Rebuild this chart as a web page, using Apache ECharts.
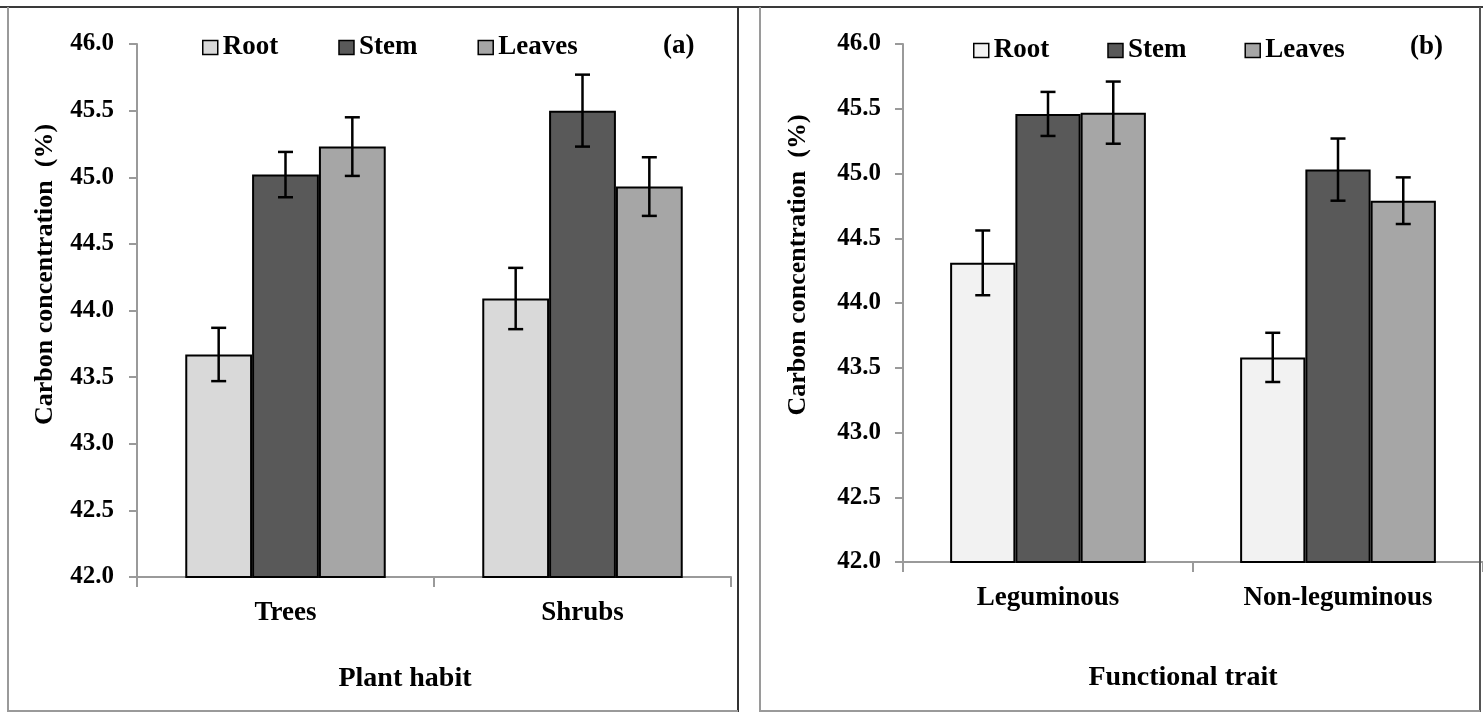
<!DOCTYPE html>
<html>
<head>
<meta charset="utf-8">
<script src="https://cdn.jsdelivr.net/npm/echarts@6/dist/echarts.min.js"></script>
<style>
html,body{margin:0;padding:0;background:#fff;overflow:hidden;}
#chart{width:1483px;height:713px;}
</style>
</head>
<body>
<div id="chart"></div>
<script>
// ---- Data ----
const seriesNames = ['Root', 'Stem', 'Leaves'];
const categoriesA = ['Trees', 'Shrubs'];
const categoriesB = ['Leguminous', 'Non-leguminous'];
const yTicks = ['42.0', '42.5', '43.0', '43.5', '44.0', '44.5', '45.0', '45.5', '46.0'];

// Panel (a): plant habit
const rootA = [43.67, 44.09];
const stemA = [45.02, 45.50];
const leavesA = [45.23, 44.93];
const rootErrA = [0.20, 0.23];
const stemErrA = [0.17, 0.27];
const leavesErrA = [0.22, 0.22];

// Panel (b): functional trait
const rootB = [44.31, 43.58];
const stemB = [45.46, 45.03];
const leavesB = [45.47, 44.79];
const rootErrB = [0.25, 0.19];
const stemErrB = [0.17, 0.24];
const leavesErrB = [0.24, 0.18];

// ---- Styles ----
const FONT = 'Liberation Serif';
const GAP = 0.325;
const colorsA = ['#d9d9d9', '#595959', '#a6a6a6'];
const colorsB = ['#f2f2f2', '#595959', '#a6a6a6'];
const axisGray = '#9a9a9a';

function errData(means, errs) {
  const out = [];
  means.forEach((arr, si) => {
    arr.forEach((m, ci) => out.push([ci, si, m, errs[si][ci]]));
  });
  return out;
}

function renderErr(params, api) {
  const ci = api.value(0), si = api.value(1), m = api.value(2), e = api.value(3);
  const catW = api.size([1, 0])[0];
  const bw = catW * (1 - GAP) / 3;
  const cx = api.coord([ci, m])[0] + (si - 1) * bw;
  const yTop = api.coord([ci, m + e])[1];
  const yBot = api.coord([ci, m - e])[1];
  const hw = 7.5;
  const style = { stroke: '#000', lineWidth: 2.5 };
  return {
    type: 'group',
    children: [
      { type: 'line', shape: { x1: cx, y1: yTop, x2: cx, y2: yBot }, style },
      { type: 'line', shape: { x1: cx - hw, y1: yTop, x2: cx + hw, y2: yTop }, style },
      { type: 'line', shape: { x1: cx - hw, y1: yBot, x2: cx + hw, y2: yBot }, style }
    ]
  };
}

function xAxisCfg(gridIndex, data, name, namePad, nameGap) {
  return {
    type: 'category', gridIndex, data,
    boundaryGap: true,
    axisLine: { lineStyle: { color: axisGray, width: 2 } },
    axisTick: { show: true, length: 10, lineStyle: { color: axisGray, width: 2 } },
    axisLabel: { margin: 23, color: '#000', fontFamily: FONT, fontWeight: 'bold', fontSize: 27 },
    name, nameLocation: 'middle', nameGap,
    nameTextStyle: { color: '#000', fontFamily: FONT, fontWeight: 'bold', fontSize: 28, padding: namePad }
  };
}

function yAxisCfg(gridIndex, namePad, nameGap, margin) {
  return {
    type: 'value', gridIndex, min: 42, max: 46, interval: 0.5,
    splitLine: { show: false },
    axisLine: { show: true, lineStyle: { color: axisGray, width: 2 } },
    axisTick: { show: true, length: 8, lineStyle: { color: axisGray, width: 2 } },
    axisLabel: {
      margin, color: '#000', fontFamily: FONT, fontWeight: 'bold', fontSize: 25,
      formatter: v => yTicks[Math.round((v - 42) / 0.5)]
    },
    name: 'Carbon concentration  (%)', nameLocation: 'middle', nameGap,
    nameTextStyle: { color: '#000', fontFamily: FONT, fontWeight: 'bold', fontSize: 26, padding: namePad }
  };
}

function barSeries(name, data, color, axisIdx) {
  return {
    type: 'bar', name, data, xAxisIndex: axisIdx, yAxisIndex: axisIdx,
    barGap: '0%', barCategoryGap: (GAP * 100) + '%',
    itemStyle: { color, borderColor: '#000', borderWidth: 2 },
    z: 2
  };
}

function legendCfg(left, top, gap, colors) {
  return {
    left, top, padding: 0, itemGap: gap, itemWidth: 15, itemHeight: 14, icon: 'rect',
    textStyle: { color: '#000', fontFamily: FONT, fontWeight: 'bold', fontSize: 27, padding: [0, 0, 0, 0] },
    data: seriesNames.map((n, i) => ({ name: n, itemStyle: { color: colors[i], borderColor: '#000', borderWidth: 1.5 } }))
  };
}

const frameLines = [
  { x1: 0, y1: 7, x2: 1483, y2: 7, c: '#3a3a3a' },
  { x1: 8, y1: 7, x2: 8, y2: 712, c: '#9a9a9a' },
  { x1: 738, y1: 7, x2: 738, y2: 712, c: '#333' },
  { x1: 760, y1: 7, x2: 760, y2: 712, c: '#9a9a9a' },
  { x1: 1480, y1: 7, x2: 1480, y2: 712, c: '#555' },
  { x1: 8, y1: 711, x2: 738, y2: 711, c: '#9a9a9a' },
  { x1: 760, y1: 711, x2: 1480, y2: 711, c: '#9a9a9a' }
];

const chart = echarts.init(document.getElementById('chart'));
chart.setOption({
  animation: false,
  backgroundColor: '#fff',
  grid: [
    { left: 137, top: 44, width: 594, height: 533 },
    { left: 903, top: 44, width: 585, height: 518 }
  ],
  title: [
    { text: '(a)', left: 663, top: 33, padding: 0, textStyle: { color: '#000', fontFamily: FONT, fontWeight: 'bold', fontSize: 27 } },
    { text: '(b)', left: 1410, top: 34, padding: 0, textStyle: { color: '#000', fontFamily: FONT, fontWeight: 'bold', fontSize: 27 } }
  ],
  legend: [
    legendCfg(202, 34, 60, colorsA),
    legendCfg(973, 37, 58, colorsB)
  ],
  xAxis: [
    xAxisCfg(0, categoriesA, 'Plant habit', [0, 58, 0, 0], 88),
    xAxisCfg(1, categoriesB, 'Functional trait', [0, 20, 0, 0], 102)
  ],
  yAxis: [
    yAxisCfg(0, [0, 0, 0, 72], 79, 23),
    yAxisCfg(1, [0, 0, 0, 76], 92, 22)
  ],
  series: [
    barSeries('Root', rootA, colorsA[0], 0),
    barSeries('Stem', stemA, colorsA[1], 0),
    barSeries('Leaves', leavesA, colorsA[2], 0),
    {
      type: 'custom', name: 'errA', xAxisIndex: 0, yAxisIndex: 0, z: 5,
      renderItem: renderErr, encode: { x: 0, y: 2 },
      data: errData([rootA, stemA, leavesA], [rootErrA, stemErrA, leavesErrA])
    },
    barSeries('Root', rootB, colorsB[0], 1),
    barSeries('Stem', stemB, colorsB[1], 1),
    barSeries('Leaves', leavesB, colorsB[2], 1),
    {
      type: 'custom', name: 'errB', xAxisIndex: 1, yAxisIndex: 1, z: 5,
      renderItem: renderErr, encode: { x: 0, y: 2 },
      data: errData([rootB, stemB, leavesB], [rootErrB, stemErrB, leavesErrB])
    }
  ],
  graphic: frameLines.map(l => ({
    type: 'line', silent: true, z: 100,
    shape: { x1: l.x1, y1: l.y1, x2: l.x2, y2: l.y2 },
    style: { stroke: l.c, lineWidth: 2 }
  }))
});
</script>
</body>
</html>
